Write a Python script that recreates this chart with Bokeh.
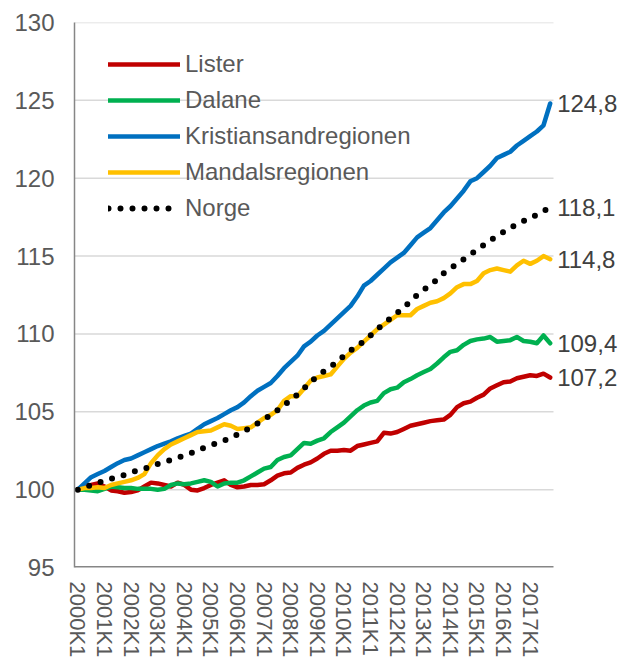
import math
from bokeh.plotting import figure
from bokeh.models import Range1d, FixedTicker, Legend, LegendItem, Label
from bokeh.embed import file_html
from bokeh.resources import INLINE

year_labels = ["2000K1", "2001K1", "2002K1", "2003K1", "2004K1", "2005K1",
               "2006K1", "2007K1", "2008K1", "2009K1", "2010K1", "2011K1",
               "2012K1", "2013K1", "2014K1", "2015K1", "2016K1", "2017K1"]
y_ticks = [95, 100, 105, 110, 115, 120, 125, 130]

lister = [100.0, 100.1, 100.3, 100.4, 100.2, 99.95, 99.9, 99.8, 99.85, 99.95,
          100.2, 100.45, 100.4, 100.3, 100.2, 100.45, 100.3, 100.0, 99.95, 100.1,
          100.3, 100.45, 100.6, 100.3, 100.15, 100.2, 100.3, 100.3, 100.35, 100.6,
          100.9, 101.05, 101.1, 101.4, 101.6, 101.75, 102.0, 102.3, 102.5, 102.5,
          102.55, 102.5, 102.8, 102.9, 103.0, 103.1, 103.65, 103.6, 103.7, 103.9,
          104.1, 104.2, 104.3, 104.4, 104.45, 104.5, 104.8, 105.3, 105.55, 105.65,
          105.9, 106.1, 106.5, 106.7, 106.9, 106.95, 107.15, 107.25, 107.35, 107.3,
          107.45, 107.2]

dalane = [100.0, 100.0, 99.95, 99.9, 100.05, 100.2, 100.15, 100.1, 100.1, 100.05,
          100.05, 100.05, 100.0, 100.05, 100.3, 100.4, 100.35, 100.4, 100.5, 100.6,
          100.5, 100.2, 100.4, 100.45, 100.45, 100.6, 100.85, 101.1, 101.35, 101.45,
          101.9, 102.1, 102.2, 102.6, 103.0, 102.95, 103.15, 103.3, 103.7, 104.0,
          104.3, 104.7, 105.1, 105.4, 105.6, 105.7, 106.2, 106.45, 106.55, 106.9,
          107.1, 107.35, 107.55, 107.75, 108.1, 108.5, 108.85, 108.95, 109.3, 109.55,
          109.65, 109.7, 109.8, 109.5, 109.55, 109.6, 109.8, 109.55, 109.5, 109.4,
          109.9, 109.4]

kristiansand = [100.0, 100.4, 100.8, 101.0, 101.2, 101.45, 101.7, 101.9, 102.0, 102.2,
                102.4, 102.6, 102.8, 102.95, 103.1, 103.3, 103.45, 103.6, 103.9, 104.2,
                104.4, 104.6, 104.85, 105.1, 105.3, 105.6, 106.0, 106.35, 106.6, 106.85,
                107.3, 107.8, 108.2, 108.6, 109.2, 109.5, 109.9, 110.2, 110.6, 111.0,
                111.4, 111.8, 112.4, 113.1, 113.4, 113.8, 114.2, 114.6, 114.9, 115.2,
                115.7, 116.2, 116.5, 116.8, 117.3, 117.8, 118.2, 118.7, 119.2, 119.8,
                120.0, 120.4, 120.8, 121.3, 121.5, 121.7, 122.1, 122.4, 122.7, 123.0,
                123.4, 124.8]

mandal = [100.0, 100.1, 100.1, 100.15, 100.1, 100.3, 100.4, 100.5, 100.6, 100.75,
          101.0, 101.7, 102.2, 102.6, 102.9, 103.1, 103.3, 103.5, 103.7, 103.75,
          103.8, 104.0, 104.2, 104.1, 103.9, 103.95, 104.0, 104.3, 104.6, 104.8,
          105.1, 105.7, 106.0, 106.0, 106.5, 107.0, 107.2, 107.3, 107.4, 107.9,
          108.4, 108.8, 109.1, 109.5, 109.9, 110.3, 110.6, 110.9, 111.2, 111.2,
          111.2, 111.6, 111.8, 112.0, 112.1, 112.3, 112.6, 113.0, 113.2, 113.2,
          113.4, 113.9, 114.1, 114.2, 114.1, 114.0, 114.4, 114.7, 114.5, 114.7,
          115.0, 114.8]

norge = [100.0, 100.15, 100.3, 100.45, 100.55, 100.7, 100.8, 100.95, 101.1, 101.25,
         101.35, 101.5, 101.65, 101.8, 101.9, 102.05, 102.2, 102.35, 102.5, 102.7,
         102.85, 103.0, 103.15, 103.35, 103.55, 103.75, 104.0, 104.25, 104.5, 104.8,
         105.1, 105.4, 105.8, 106.1, 106.5, 106.9, 107.3, 107.6, 107.9, 108.2,
         108.6, 108.95, 109.2, 109.55, 109.9, 110.3, 110.65, 111.0, 111.35, 111.7,
         112.1, 112.5, 112.85, 113.1, 113.5, 113.9, 114.2, 114.5, 114.8, 115.1,
         115.4, 115.7, 116.0, 116.3, 116.55, 116.8, 117.05, 117.25, 117.45, 117.65,
         117.9, 118.1]

series_names = ["Lister", "Dalane", "Kristiansandregionen", "Mandalsregionen", "Norge"]
end_labels = ["107,2", "109,4", "124,8", "114,8", "118,1"]
end_values = [107.2, 109.4, 124.8, 114.8, 118.1]

FONT = "Liberation Sans"
n = len(norge)
xs = list(range(n))

# Plot area: categories occupy 479 px; the frame is widened so that the
# end labels (drawn inside the frame) are not clipped.
W, H = 627, 660
left, right_border, top, bottom = 74, 7, 22, 93
cat_px = 479
frame_w = W - left - right_border
x_end = -0.5 + n * frame_w / cat_px

p = figure(width=W, height=H, output_backend="svg", toolbar_location=None,
           x_range=Range1d(-0.5, x_end), y_range=Range1d(95, 130),
           min_border_left=left, min_border_right=right_border,
           min_border_top=top, min_border_bottom=bottom)
p.outline_line_color = None
p.background_fill_color = "white"
p.border_fill_color = "white"

p.xgrid.grid_line_color = None
p.ygrid.grid_line_color = None
p.yaxis.ticker = FixedTicker(ticks=y_ticks)
p.xaxis.ticker = FixedTicker(ticks=[4 * i for i in range(len(year_labels))])
p.xaxis.major_label_overrides = {4 * i: lab for i, lab in enumerate(year_labels)}

# horizontal gridlines, limited to the category area
grid_y = y_ticks[1:]
p.segment(x0=[-0.5] * len(grid_y), x1=[n - 0.5] * len(grid_y), y0=grid_y, y1=grid_y,
          line_color="#D9D9D9", line_width=1.5)
# bottom axis line, limited to the category area
p.segment(x0=[-0.5], x1=[n - 0.5], y0=[95], y1=[95], line_color="#868686",
          line_width=3)

for ax in (p.xaxis, p.yaxis):
    ax.major_tick_line_color = None
    ax.minor_tick_line_color = None
    ax.major_tick_out = 0
    ax.major_tick_in = 0
    ax.major_label_text_font = FONT
    ax.major_label_text_color = "#595959"
p.xaxis.axis_line_color = None
p.yaxis.axis_line_color = "#868686"
p.yaxis.axis_line_width = 1.5

p.yaxis.major_label_text_font_size = "24px"
p.yaxis.major_label_standoff = 20
p.xaxis.major_label_text_font_size = "22px"
p.xaxis.major_label_standoff = 14
p.xaxis.major_label_orientation = -math.pi / 2

colors = ["#C00000", "#00B050", "#0070C0", "#FFC000", "#000000"]
data = [lister, dalane, kristiansand, mandal, norge]

items = []
for name, ys, col in zip(series_names, data, colors):
    if name == "Norge":
        r = p.line(xs, ys, line_color=col, line_width=6, line_dash="0 12",
                   line_cap="round", line_join="round")
    else:
        r = p.line(xs, ys, line_color=col, line_width=4.5, line_join="round",
                   line_cap="round")
    items.append(LegendItem(label=name, renderers=[r]))

legend = Legend(items=items, location=(34, 341), padding=0, margin=0,
                glyph_width=72, glyph_height=36, label_height=36, spacing=0,
                label_standoff=5, label_text_font=FONT,
                label_text_font_size="24px", label_text_color="#595959",
                background_fill_alpha=0, border_line_color=None)
p.add_layout(legend, "center")

for lab, v in zip(end_labels, end_values):
    p.add_layout(Label(x=n - 1, y=v, x_offset=7, text=lab, text_font=FONT,
                       text_font_size="24px", text_color="#404040",
                       text_baseline="middle", text_align="left"))

open("out.html", "w").write(file_html(p, INLINE))
